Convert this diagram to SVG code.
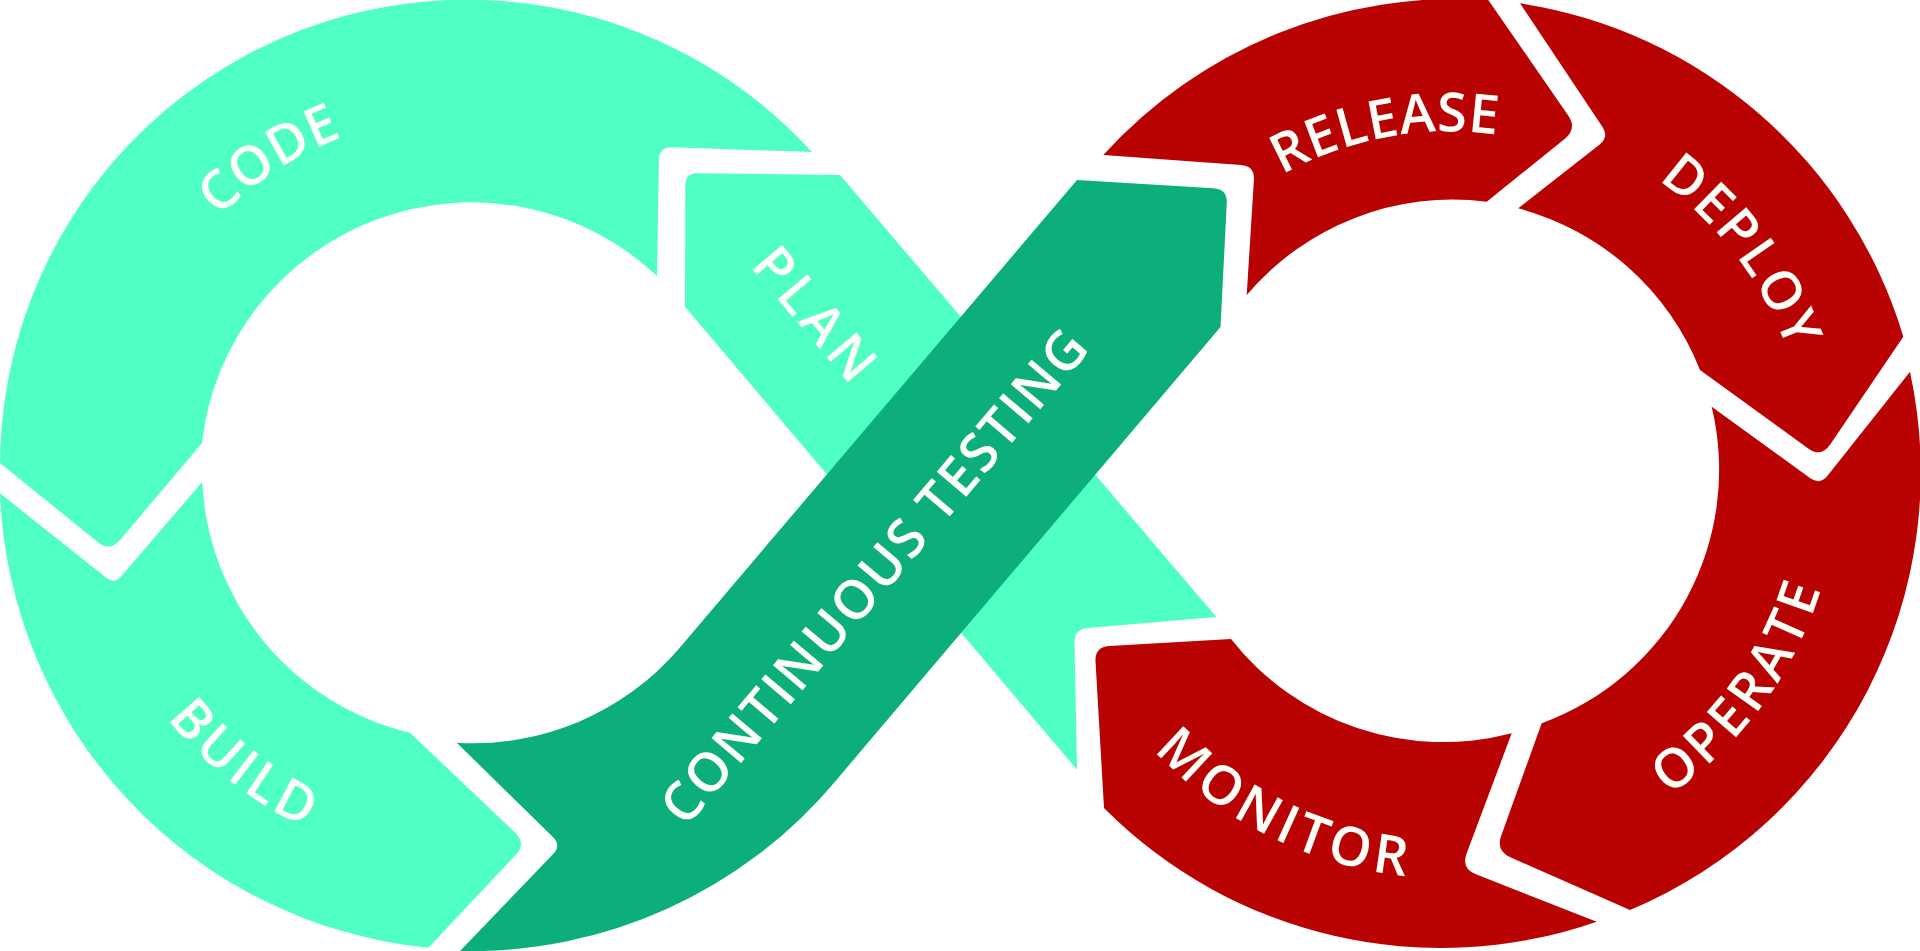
<svg xmlns="http://www.w3.org/2000/svg" xmlns:xlink="http://www.w3.org/1999/xlink" width="1920" height="951" viewBox="0 0 1920 951">
<style>
.teal{fill:#50FFC4}
.dark{fill:#0CAE7B}
.red{fill:#B90202}
.lbl{font-family:"Open Sans","Liberation Sans",sans-serif;font-size:54px;font-weight:600;fill:#FFFFFA}
</style>
<defs>
<path id="pCode" d="M 114.3 429.3 A 361.5 361.5 0 0 1 579.3 128.5"/>
<path id="pBuild" d="M 81.8 486.9 A 391.4 391.4 0 0 0 553.7 857.0"/>
<path id="pRelease" d="M 1150.8 305.3 A 342.6 342.6 0 0 1 1666.9 209.7"/>
<path id="pDeploy" d="M 1466.6 113.8 A 360.6 360.6 0 0 1 1800.6 553.9"/>
<path id="pOperate" d="M 1475.5 862.5 A 389.4 389.4 0 0 0 1826.9 380.5"/>
<path id="pMonitor" d="M 1056.2 570.4 A 404.4 404.4 0 0 0 1612.2 844.0"/>
</defs>
<rect width="1920" height="951" fill="#FFFFFF"/>
<g id="code">
<path class="teal" d="M 812 152 L 672 147.3 Q 659 147 658.9 160 L 657 276 A 271 271 0 0 0 202 443 L 120.3 539.8 Q 110 552 97.6 541.9 L 0 463 A 467 467 0 0 1 812 152 Z"/>
<text class="lbl" letter-spacing="0.5"><textPath xlink:href="#pCode" href="#pCode" startOffset="50%" text-anchor="middle">CODE</textPath></text>
</g>
<g id="build">
<path class="teal" d="M 0 493.3 L 106.7 578 Q 114.5 584.2 121 576.6 L 202.3 481.7 A 271 271 0 0 0 410 732.7 L 515 832.4 Q 526.6 843.4 515.6 855.1 L 428.3 947.7 A 475 475 0 0 1 0 493.3 Z"/>
<text class="lbl" letter-spacing="4"><textPath xlink:href="#pBuild" href="#pBuild" startOffset="50%" text-anchor="middle">BUILD</textPath></text>
</g>
<g id="plan">
<path class="teal" d="M 840 175 L 697.5 173.2 Q 685.5 173 685.3 185 L 685 306.7 L 1077 769.7 L 1074.5 643 Q 1074 629 1088 628 L 1216.4 617 Z"/>
<text class="lbl" letter-spacing="5.5" text-anchor="middle" transform="translate(802 328) rotate(49.76)">PLAN</text>
</g>
<g id="testing">
<path class="dark" d="M 456.7 742.7 L 552.9 836.9 Q 561.5 845.3 553.2 854 L 460 951 A 475 475 0 0 0 835.6 780.9 L 1220.5 327 L 1226.8 203 Q 1227.4 189 1213.4 188.2 L 1077 180 L 679.1 648.4 A 271 271 0 0 1 456.7 742.7 Z"/>
<text class="lbl" letter-spacing="2" text-anchor="middle" transform="translate(889 588) rotate(-49.76)">CONTINUOUS TESTING</text>
</g>
<g id="release">
<path class="red" d="M 1103.3 155 L 1240.9 164.9 Q 1254.8 165.9 1253.9 179.9 L 1246.7 295 A 270 270 0 0 1 1486.7 201.7 L 1564.9 138.7 Q 1577.3 128.7 1568.2 115.5 L 1488.3 0 A 475 475 0 0 0 1103.3 155 Z"/>
<text class="lbl" letter-spacing="0.5"><textPath xlink:href="#pRelease" href="#pRelease" startOffset="50%" text-anchor="middle">RELEASE</textPath></text>
</g>
<g id="deploy">
<path class="red" d="M 1520 3.3 L 1602.5 127 Q 1609.1 137 1599.7 144.4 L 1518.3 208.3 A 270 270 0 0 1 1700 370 L 1808.2 448.4 Q 1821.2 457.8 1830.2 444.6 L 1903.3 336.7 A 475 475 0 0 0 1520 3.3 Z"/>
<text class="lbl" letter-spacing="2"><textPath xlink:href="#pDeploy" href="#pDeploy" startOffset="50%" text-anchor="middle">DEPLOY</textPath></text>
</g>
<g id="operate">
<path class="red" d="M 1910 371.7 L 1827.5 475.8 Q 1820 485.2 1810.3 478.2 L 1711.7 406.7 A 270 270 0 0 1 1541.7 723.3 L 1501.2 835.7 Q 1495.8 850.8 1510.4 857.3 L 1630 910 A 475 475 0 0 0 1910 371.7 Z"/>
<text class="lbl" letter-spacing="4"><textPath xlink:href="#pOperate" href="#pOperate" startOffset="50%" text-anchor="middle">OPERATE</textPath></text>
</g>
<g id="monitor">
<path class="red" d="M 1231 639 L 1109 646 Q 1095 647 1095.5 661 L 1104 808 A 475 475 0 0 0 1596.7 921.7 L 1475.9 874.3 Q 1461 868.5 1466.6 853.5 L 1511.7 733.3 A 270 270 0 0 1 1231 639 Z"/>
<text class="lbl" letter-spacing="4.75"><textPath xlink:href="#pMonitor" href="#pMonitor" startOffset="50%" text-anchor="middle">MONITOR</textPath></text>
</g>
</svg>
